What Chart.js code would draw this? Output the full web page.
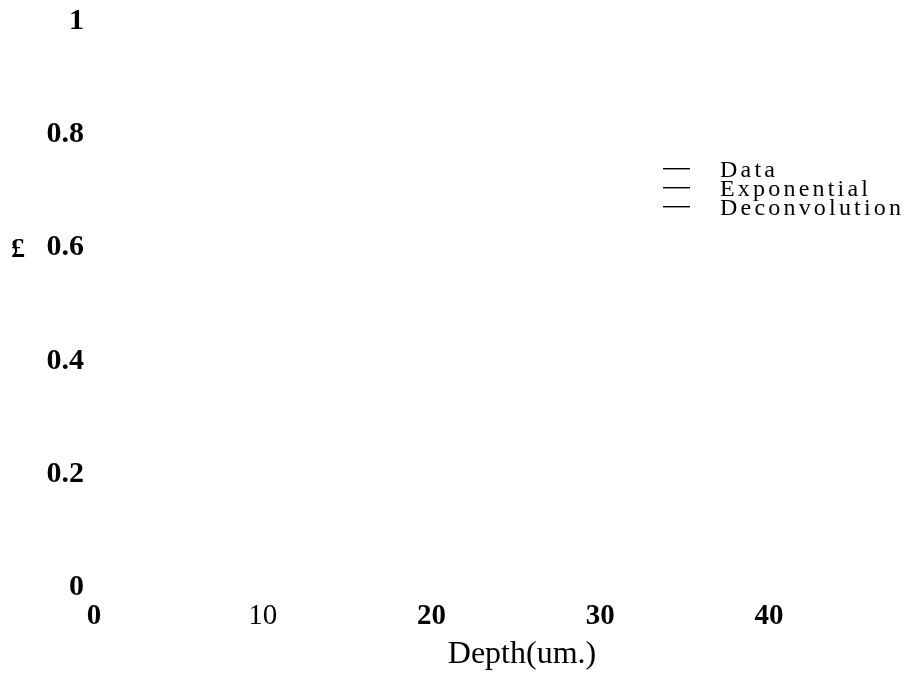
<!DOCTYPE html>
<html>
<head>
<meta charset="utf-8">
<script src="https://cdn.jsdelivr.net/npm/chart.js@4.4.0/dist/chart.umd.min.js"></script>
<style>
  html, body { margin: 0; padding: 0; background: #fff; }
  #chart { display: block; }
</style>
</head>
<body>
<canvas id="chart" width="908" height="673"></canvas>
<script>
// values: the plot area is empty, only axes text and legend show
const xTicks = [0, 10, 20, 30, 40];
const yTicks = [0, 0.2, 0.4, 0.6, 0.8, 1];
const seriesLabels = ['Data', 'Exponential', 'Deconvolution'];
const dataValues = [];
const exponentialValues = [];
const deconvolutionValues = [];

const serif = '"Liberation Serif", "Times New Roman", serif';

const extraText = {
    id: 'extraText',
    afterDraw(chart) {
        const ctx = chart.ctx;
        const y = chart.scales.y;
        ctx.save();
        ctx.fillStyle = '#000';

        // y axis title, upright, level with the 0.6 tick
        ctx.font = 'bold 28px ' + serif;
        ctx.textAlign = 'center';
        ctx.textBaseline = 'middle';
        ctx.fillText('£', 18, y.getPixelForValue(0.6) + 2);

        // x axis title, sits right of the axis centre
        ctx.font = '32px ' + serif;
        ctx.textBaseline = 'alphabetic';
        ctx.fillText('Depth(um.)', 522, 663);

        // legend
        ctx.font = '24px ' + serif;
        ctx.textAlign = 'left';
        chart.data.datasets.forEach((ds, i) => {
            const cy = 169 + i * 19;
            ctx.fillRect(663, cy - 1, 27, 1.4);
            ctx.letterSpacing = '3.2px';
            ctx.fillText(ds.label, 720, cy + 8);
        });
        ctx.restore();
    }
};

new Chart(document.getElementById('chart').getContext('2d'), {
    type: 'line',
    data: {
        datasets: [
            { label: seriesLabels[0], data: dataValues, borderColor: '#000', pointRadius: 0 },
            { label: seriesLabels[1], data: exponentialValues, borderColor: '#000', pointRadius: 0 },
            { label: seriesLabels[2], data: deconvolutionValues, borderColor: '#000', pointRadius: 0 }
        ]
    },
    options: {
        responsive: false,
        animation: false,
        layout: { padding: { top: 0, right: 139, bottom: 27, left: 0 } },
        plugins: { legend: { display: false }, tooltip: { enabled: false } },
        scales: {
            x: {
                type: 'linear',
                min: xTicks[0],
                max: xTicks[xTicks.length - 1],
                afterBuildTicks: axis => { axis.ticks = xTicks.map(v => ({ value: v })); },
                grid: { display: false, drawTicks: false },
                border: { display: false },
                ticks: {
                    color: '#000',
                    padding: 12,
                    maxRotation: 0,
                    font: c => ({ family: serif, size: 29, weight: c.tick && c.tick.value === 10 ? 'normal' : 'bold' })
                }
            },
            y: {
                min: yTicks[0],
                max: yTicks[yTicks.length - 1],
                afterBuildTicks: axis => { axis.ticks = yTicks.map(v => ({ value: v })); },
                grid: { display: false, drawTicks: false },
                border: { display: false },
                afterFit: axis => { axis.width = 94; },
                ticks: {
                    color: '#000',
                    padding: 10,
                    callback: v => String(v),
                    font: { family: serif, size: 30, weight: 'bold', lineHeight: 0.75 }
                }
            }
        }
    },
    plugins: [extraText]
});
</script>
</body>
</html>
